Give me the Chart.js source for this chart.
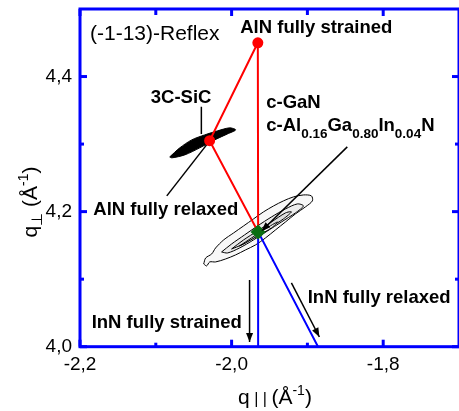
<!DOCTYPE html>
<html><head><meta charset="utf-8">
<script src="https://cdn.jsdelivr.net/npm/chart.js@4"></script>
<style>html,body{margin:0;padding:0;background:#fff;overflow:hidden}</style>
</head><body>
<canvas id="c" width="459" height="411"></canvas>
<script>
// ---- axes ----
const xMajorTicks = [-2.2, -2.0, -1.8];
const xMinorTicks = [-2.1, -1.9];
const yMajorTicks = [4.0, 4.2, 4.4];
const yMinorTicks = [4.1, 4.3];
const xLimits = [-2.2, -1.7];
const yLimits = [4.0, 4.5];

// ---- reciprocal lattice points ----
const redPointX = [-1.9654, -2.029];      // AlN fully strained, 3C-SiC
const redPointY = [4.450, 4.305];
const greenPointX = [-1.965];             // c-GaN / c-AlGaInN
const greenPointY = [4.170];

// ---- relaxation lines ----
const redPathX = [-1.9654, -2.029, -1.965, -1.9654];
const redPathY = [4.450, 4.305, 4.170, 4.450];
const bluePathX = [-1.886, -1.965, -1.965];
const bluePathY = [4.000, 4.170, 4.000];

// ---- contours ----
const sicContourX = [-2.0816,-2.0684,-2.0526,-2.0355,-2.0184,-2.0026,-1.9947,-2.0053,-2.0224,-2.0421,-2.0618,-2.0789,-2.0816];
const sicContourY = [4.2810,4.2944,4.3062,4.3136,4.3196,4.3240,4.3210,4.3151,4.3062,4.2944,4.2840,4.2796,4.2810];

const ganContour1X = [-2.0368,-2.0342,-2.0263,-2.0211,-2.0105,-1.9974,-1.9842,-1.9711,-1.9579,-1.9447,-1.9316,-1.9184,-1.9053,-1.8947,-1.8934,-1.9026,-1.9158,-1.9289,-1.9421,-1.9553,-1.9684,-1.9816,-1.9947,-2.0079,-2.0211,-2.0289,-2.0329,-2.0368];
const ganContour1Y = [4.1225,4.1314,4.1373,4.1462,4.1581,4.1684,4.1788,4.1892,4.1996,4.2084,4.2159,4.2218,4.2247,4.2233,4.2159,4.2070,4.1966,4.1847,4.1729,4.1610,4.1507,4.1433,4.1359,4.1299,4.1255,4.1255,4.1196,4.1225];
const ganContour2X = [-2.0132,-2.0000,-1.9829,-1.9658,-1.9474,-1.9289,-1.9132,-1.9053,-1.9158,-1.9342,-1.9526,-1.9711,-1.9895,-2.0053,-2.0132];
const ganContour2Y = [4.1403,4.1521,4.1655,4.1788,4.1921,4.2040,4.2114,4.2084,4.1981,4.1847,4.1714,4.1581,4.1462,4.1388,4.1403];
const ganContour3X = [-2.0000,-1.9842,-1.9658,-1.9474,-1.9289,-1.9211,-1.9316,-1.9500,-1.9684,-1.9868,-2.0000];
const ganContour3Y = [4.1447,4.1581,4.1714,4.1847,4.1981,4.1996,4.1892,4.1759,4.1625,4.1507,4.1447];
const ganContour4X = [-1.9895,-1.9737,-1.9553,-1.9395,-1.9474,-1.9658,-1.9842,-1.9895];
const ganContour4Y = [4.1492,4.1610,4.1744,4.1847,4.1759,4.1640,4.1521,4.1492];

// ---- annotation pointers ----
const sicPointerX = [-2.0399, -2.0399];
const sicPointerY = [4.3551, 4.3151];
const alnRelaxedPointerX = [-2.0855, -2.0289];
const alnRelaxedPointerY = [4.2233, 4.3047];
const alloyPointerX = [-1.8474, -1.9605];
const alloyPointerY = [4.2959, 4.1714];
const innStrainedArrowX = [-1.9763, -1.9763];
const innStrainedArrowY = [4.0988, 4.0070];
const innRelaxedArrowX = [-1.9211, -1.8842];
const innRelaxedArrowY = [4.0944, 4.0144];

// ---- text labels (left edge / baseline in data units) ----
const labelTexts = ['(-1-13)-Reflex','AlN fully strained','3C-SiC','c-GaN','AlN fully relaxed','InN fully strained','InN fully relaxed'];
const labelX = [-2.1868, -1.9886, -2.1066, -1.9543, -2.1825, -2.1846, -1.8996];
const labelY = [4.4547, 4.4640, 4.3610, 4.3532, 4.1951, 4.0281, 4.0652];
const labelBold = [false, true, true, true, true, true, true];
const alloyParts = ['c-Al','0.16','Ga','0.80','In','0.04','N'];
const alloyX = -1.9543, alloyY = 4.3188;

const pts = (xs, ys) => xs.map((x, i) => ({x, y: ys[i]}));
const FONT = '"Liberation Sans", Arial, sans-serif';
const fmt = v => v.toFixed(1).replace('.', ',');

const line = (xs, ys, color, w, order, extra) => Object.assign({
  data: pts(xs, ys), showLine: true, borderColor: color, borderWidth: w,
  pointRadius: 0, fill: false, order
}, extra || {});

const contour = (xs, ys, bg, order, w) => line(xs, ys, '#000', w, order,
  {fill: 'shape', backgroundColor: bg, tension: 0.3});

function drawRich(ctx, x, y, parts) {
  let cx = x;
  for (const p of parts) {
    ctx.font = (p.bold ? 'bold ' : '') + p.size + 'px ' + FONT;
    ctx.fillText(p.t, cx, y + (p.dy || 0));
    cx += ctx.measureText(p.t).width;
  }
  return cx - x;
}
function richWidth(ctx, parts) {
  let w = 0;
  for (const p of parts) { ctx.font = (p.bold ? 'bold ' : '') + p.size + 'px ' + FONT; w += ctx.measureText(p.t).width; }
  return w;
}
const noPad = s => { s.paddingLeft = 0; s.paddingRight = 0; s.paddingTop = 0; s.paddingBottom = 0; };

const decor = {
  id: 'decor',
  afterDraw(chart) {
    const {ctx, chartArea: a, scales: {x, y}} = chart;
    ctx.save();
    // arrowheads
    ctx.fillStyle = '#000';
    const head = (xs, ys) => {
      const x1 = x.getPixelForValue(xs[0]), y1 = y.getPixelForValue(ys[0]);
      const x2 = x.getPixelForValue(xs[1]), y2 = y.getPixelForValue(ys[1]);
      const ang = Math.atan2(y2 - y1, x2 - x1), L = 9, W = 3.5;
      ctx.beginPath();
      ctx.moveTo(x2, y2);
      ctx.lineTo(x2 - L * Math.cos(ang) + W * Math.sin(ang), y2 - L * Math.sin(ang) - W * Math.cos(ang));
      ctx.lineTo(x2 - L * Math.cos(ang) - W * Math.sin(ang), y2 - L * Math.sin(ang) + W * Math.cos(ang));
      ctx.closePath(); ctx.fill();
    };
    head(innStrainedArrowX, innStrainedArrowY);
    head(innRelaxedArrowX, innRelaxedArrowY);
    head(alloyPointerX, alloyPointerY);

    // frame
    ctx.strokeStyle = '#0000ff';
    ctx.lineWidth = 3;
    ctx.strokeRect(a.left, a.top, a.right - a.left, a.bottom - a.top);
    ctx.lineCap = 'butt';
    const tick = (x0, y0, dx, dy) => { ctx.beginPath(); ctx.moveTo(x0, y0); ctx.lineTo(x0 + dx, y0 + dy); ctx.stroke(); };
    for (const v of xMajorTicks) { const px = x.getPixelForValue(v); tick(px, a.bottom, 0, -7); tick(px, a.top, 0, 7); }
    for (const v of xMinorTicks) { const px = x.getPixelForValue(v); tick(px, a.bottom, 0, -4); tick(px, a.top, 0, 6); }
    for (const v of yMajorTicks) { const py = y.getPixelForValue(v); tick(a.left, py, 7, 0); tick(a.right, py, -7, 0); }
    for (const v of yMinorTicks) { const py = y.getPixelForValue(v); tick(a.left, py, 4, 0); tick(a.right, py, -4, 0); }

    // labels
    ctx.fillStyle = '#000';
    ctx.textBaseline = 'alphabetic';
    ctx.textAlign = 'left';
    labelTexts.forEach((t, i) => {
      ctx.font = (labelBold[i] ? 'bold 18.5px ' : '21px ') + FONT;
      ctx.fillText(t, x.getPixelForValue(labelX[i]), y.getPixelForValue(labelY[i]));
    });
    const ap = alloyParts.map((t, i) => i % 2 ? {t, size: 13.5, bold: true, dy: 7} : {t, size: 18.5, bold: true});
    drawRich(ctx, x.getPixelForValue(alloyX), y.getPixelForValue(alloyY), ap);

    // axis titles
    const xt = [{t:'q', size:21}, {t:' | | ', size:16}, {t:'(Å', size:21}, {t:'-1', size:14, dy:-9}, {t:')', size:21}];
    const xw = richWidth(ctx, xt);
    drawRich(ctx, 275 - xw / 2, 404, xt);
    const yt = [{t:'q', size:21}, {t:'⊥', size:15, dy:5}, {t:' (Å', size:21}, {t:'-1', size:14, dy:-9}, {t:')', size:21}];
    const yw = richWidth(ctx, yt);
    ctx.translate(37, 202);
    ctx.rotate(-Math.PI / 2);
    drawRich(ctx, -yw / 2, 0, yt);
    ctx.restore();
  }
};

new Chart(document.getElementById('c'), {
  type: 'scatter',
  data: {
    datasets: [
      contour(ganContour1X, ganContour1Y, '#f8f8f8', 30, 1),
      contour(ganContour2X, ganContour2Y, '#ececec', 29, 1),
      contour(ganContour3X, ganContour3Y, '#dedede', 28, 1),
      contour(ganContour4X, ganContour4Y, '#fafafa', 27, 1),
      contour(sicContourX, sicContourY, '#000000', 26, 1),
      line(redPathX, redPathY, '#ff0000', 2, 10),
      line(bluePathX, bluePathY, '#0000ff', 2, 10),
      line(sicPointerX, sicPointerY, '#000', 1.5, 9),
      line(alnRelaxedPointerX, alnRelaxedPointerY, '#000', 1.5, 9),
      line(alloyPointerX, alloyPointerY, '#000', 1.5, 9),
      line(innStrainedArrowX, innStrainedArrowY, '#000', 1.5, 9),
      line(innRelaxedArrowX, innRelaxedArrowY, '#000', 1.5, 9),
      {data: pts(redPointX, redPointY), pointRadius: 5.5, pointBackgroundColor: '#ff0000', pointBorderColor: '#ff0000', borderWidth: 0, order: 2},
      {data: pts(greenPointX, greenPointY), pointStyle: 'rectRot', pointRadius: 7.5, pointBackgroundColor: '#0a6e12', pointBorderColor: '#0a6e12', borderWidth: 0, order: 1}
    ]
  },
  options: {
    responsive: false, animation: false, devicePixelRatio: 1,
    layout: {autoPadding: false, padding: {top: 9, left: 0, right: 0, bottom: 0}},
    plugins: {legend: {display: false}, tooltip: {enabled: false}},
    scales: {
      x: {
        type: 'linear', min: xLimits[0], max: xLimits[1],
        afterBuildTicks: s => { s.ticks = xMajorTicks.map(v => ({value: v})); },
        afterFit: s => { s.height = 64.3; noPad(s); },
        grid: {display: false, drawTicks: false}, border: {display: false},
        ticks: {padding: 7, color: '#000', font: {family: FONT, size: 19}, maxRotation: 0, autoSkip: false, callback: v => fmt(v)}
      },
      y: {
        type: 'linear', min: yLimits[0], max: yLimits[1],
        afterBuildTicks: s => { s.ticks = yMajorTicks.map(v => ({value: v})); },
        afterFit: s => { s.width = 80; noPad(s); },
        grid: {display: false, drawTicks: false}, border: {display: false},
        ticks: {padding: 8, color: '#000', font: {family: FONT, size: 19}, autoSkip: false, callback: v => fmt(v)}
      }
    }
  },
  plugins: [decor]
});
</script>
</body></html>
